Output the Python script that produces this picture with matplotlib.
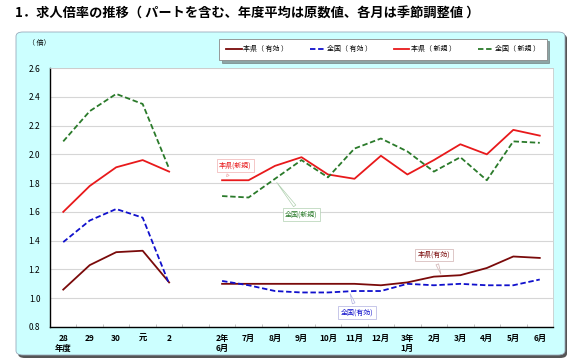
import matplotlib
matplotlib.use("Agg")
import matplotlib.pyplot as plt
import numpy as np
from matplotlib.patches import FancyBboxPatch
from matplotlib.ticker import FixedLocator

plt.rcParams["font.family"] = ["Noto Sans CJK JP", "DejaVu Sans"]

nan = np.nan
labels = ["28\n年度", "29", "30", "元", "2", "",
          "2年\n6月", "7月", "8月", "9月", "10月", "11月", "12月",
          "3年\n1月", "2月", "3月", "4月", "5月", "6月"]

ken_yuko = [1.06, 1.23, 1.32, 1.33, 1.11, nan,
            1.10, 1.10, 1.10, 1.10, 1.10, 1.10, 1.09, 1.11, 1.15, 1.16, 1.21, 1.29, 1.28]
zen_yuko = [1.39, 1.54, 1.62, 1.56, 1.10, nan,
            1.12, 1.09, 1.05, 1.04, 1.04, 1.05, 1.05, 1.10, 1.09, 1.10, 1.09, 1.09, 1.13]
ken_shinki = [1.60, 1.78, 1.91, 1.96, 1.88, nan,
              1.82, 1.82, 1.92, 1.98, 1.86, 1.83, 1.99, 1.86, 1.96, 2.07, 2.00, 2.17, 2.13]
zen_shinki = [2.09, 2.30, 2.42, 2.35, 1.90, nan,
              1.71, 1.70, 1.83, 1.96, 1.84, 2.04, 2.11, 2.02, 1.88, 1.98, 1.82, 2.09, 2.08]

W, H = 572, 364
fig = plt.figure(figsize=(W / 100, H / 100), dpi=100)

# outer panel with shadow
shadow = FancyBboxPatch((18 / W, 1 - 358 / H), 549 / W, 324 / H,
                        boxstyle="round,pad=0,rounding_size=0.012",
                        transform=fig.transFigure, fc="#555555", ec="none", zorder=-3)
panel = FancyBboxPatch((16 / W, 1 - 355 / H), 549 / W, 323 / H,
                       boxstyle="round,pad=0,rounding_size=0.012",
                       transform=fig.transFigure, fc="#ccffff", ec="#9ab", lw=0.6, zorder=-2)
fig.patches.extend([shadow, panel])

fig.text(15 / W, 1 - 14 / H, "1．求人倍率の推移（ パートを含む、年度平均は原数値、各月は季節調整値 ）",
         fontsize=9.5, fontweight="bold", va="center", ha="left")
fig.text(28 / W, 1 - 43 / H, "（ 倍）", fontsize=5, va="center", ha="left")

ax = fig.add_axes([50 / W, 1 - 327 / H, 503 / W, 259 / H])
ax.set_zorder(2)
ax.set_facecolor("white")
x = np.arange(len(labels))

l1, = ax.plot(x, ken_yuko, color="#7a0a0a", lw=1.3, label="本県（ 有効 ）")
l2, = ax.plot(x, zen_yuko, color="#1010cc", lw=1.3, ls=(0, (3, 1.5)), label="全国（ 有効 ）")
l3, = ax.plot(x, ken_shinki, color="#e8191b", lw=1.3, label="本県（ 新規 ）")
l4, = ax.plot(x, zen_shinki, color="#2a7a2a", lw=1.3, ls=(0, (3, 1.5)), label="全国（ 新規 ）")

ax.set_xlim(-0.5, len(labels) - 0.5)
ax.set_ylim(0.8, 2.6)
yt = np.arange(0.8, 2.61, 0.2)
ax.set_yticks(yt)
ax.set_yticklabels([f"{v:.1f}" for v in yt], fontsize=6)
ax.set_xticks(x)
ax.set_xticklabels(labels, fontsize=6, fontweight="bold", va="top", linespacing=1.1)
ax.xaxis.set_minor_locator(FixedLocator(np.arange(0.5, len(labels) - 1, 1)))
ax.tick_params(axis="x", which="major", length=0, pad=5)
ax.tick_params(axis="x", which="minor", length=2, direction="in", color="#bbbbbb")
ax.tick_params(axis="y", length=0, pad=7)
ax.grid(axis="y", color="#d6d6d6", lw=0.8)
ax.set_axisbelow(True)
for s in ("top", "right"):
    ax.spines[s].set_color("#cccccc")
    ax.spines[s].set_linewidth(0.6)
for s in ("left", "bottom"):
    ax.spines[s].set_color("black")
    ax.spines[s].set_linewidth(1.0)


def callout(text, xy, xytext, color, edge):
    ax.annotate(text, xy=xy, xytext=xytext, fontsize=5, color=color,
                ha="center", va="center",
                bbox=dict(boxstyle="square,pad=0.35", fc="white", ec=edge, lw=0.5),
                arrowprops=dict(arrowstyle="wedge,tail_width=0.4", fc="white", ec=edge, lw=0.5))


callout("本県(新規)", (6.1, 1.83), (6.5, 1.92), "#e8191b", "#f0b0b0")
callout("全国(新規)", (8.0, 1.82), (9.0, 1.58), "#2a7a2a", "#b0d0b0")
callout("本県(有効)", (14.3, 1.15), (14.0, 1.30), "#7a0a0a", "#d0b0b0")
callout("全国(有効)", (10.8, 1.05), (11.1, 0.90), "#1010cc", "#b0b0e0")

leg = fig.legend(handles=[l1, l2, l3, l4], ncol=4, loc="center",
                 bbox_to_anchor=(383 / W, 1 - 49.5 / H),
                 fontsize=5, handlelength=2.2, handletextpad=0.2, columnspacing=3.2,
                 borderpad=1.0, borderaxespad=0,
                 frameon=True, fancybox=False, shadow=True, edgecolor="#888888")
leg.get_frame().set_linewidth(0.6)
leg.set_zorder(3)

fig.savefig("out.png", dpi=100)
